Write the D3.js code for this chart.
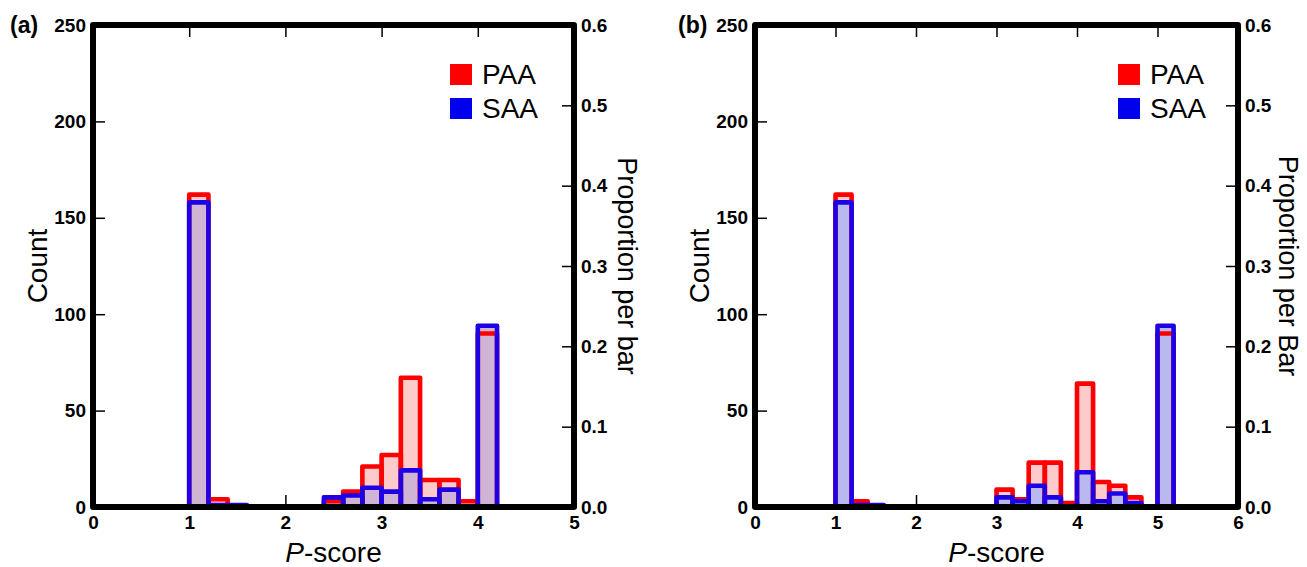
<!DOCTYPE html>
<html>
<head>
<meta charset="utf-8">
<script src="https://cdn.jsdelivr.net/npm/d3@7"></script>
<style>
  html, body { margin: 0; padding: 0; background: #fff; }
  svg { display: block; }
  text { font-family: "Liberation Sans", Arial, sans-serif; }
</style>
</head>
<body>
<svg id="chart" width="1307" height="567"></svg>
<script>
// ---- data ----
const binWidth = 0.2;
const seriesNames = ["PAA", "SAA"];

const binsA = [1.0, 1.2, 1.4, 2.4, 2.6, 2.8, 3.0, 3.2, 3.4, 3.6, 3.8, 4.0];
const paaA  = [162, 4,   0,   3,   8,   21,  27,  67,  14,  14,  3,   90];
const saaA  = [158, 1,   1,   5,   6,   10,  8,   19,  4,   9,   0,   94];

const binsB = [1.0, 1.2, 1.4, 3.0, 3.2, 3.4, 3.6, 3.8, 4.0, 4.2, 4.4, 4.6, 5.0];
const paaB  = [162, 3,   0,   9,   4,   23,  23,  2,   64,  13,  11,  5,   90];
const saaB  = [158, 1,   1,   5,   3,   11,  5,   0,   18,  3,   7,   2,   94];

const xTicksA = [0, 1, 2, 3, 4, 5];
const xTicksB = [0, 1, 2, 3, 4, 5, 6];
const countTicks = [0, 50, 100, 150, 200, 250];
const propTicks = [0, 0.1, 0.2, 0.3, 0.4, 0.5, 0.6];

// ---- layout ----
(function () {
const svg = d3.select("#chart");
const yTop = 25, yBottom = 507;
const RED = "#ff0000", BLUE = "#1e00e6";
const RED_FILL = "#ffcaca";

const panels = [
  { label: "(a)", labelX: 10, left: 93, right: 574, xMax: 5, xTicks: xTicksA,
    bins: binsA, paa: paaA, saa: saaA, blueFill: "#d0b4d6",
    rightTitle: "Proportion per bar", rightOffset: 53, legendX: 450 },
  { label: "(b)", labelX: 678, left: 755, right: 1238, xMax: 6, xTicks: xTicksB,
    bins: binsB, paa: paaB, saa: saaB, blueFill: "#b9b9f0",
    rightTitle: "Proportion per Bar", rightOffset: 50, legendX: 1118 }
];

panels.forEach(p => {
  const g = svg.append("g");
  const x = d3.scaleLinear().domain([0, p.xMax]).range([p.left, p.right]);
  const y = d3.scaleLinear().domain([0, 250]).range([yBottom, yTop]);
  const yR = d3.scaleLinear().domain([0, 0.6]).range([yBottom, yTop]);

  const styleAxis = sel => {
    sel.select(".domain").remove();
    sel.selectAll(".tick line").attr("stroke", "#000").attr("stroke-width", 1.5);
    sel.selectAll(".tick text")
      .attr("fill", "#000")
      .style("font-family", '"Liberation Sans", Arial, sans-serif')
      .style("font-weight", "bold")
      .style("font-size", "19px");
  };

  g.append("g").attr("transform", `translate(0,${yBottom})`)
    .call(d3.axisBottom(x).tickValues(p.xTicks).tickSize(-12).tickPadding(9).tickFormat(d3.format("d")))
    .call(styleAxis);
  g.append("g").attr("transform", `translate(0,${yTop})`)
    .call(d3.axisTop(x).tickValues(p.xTicks).tickSize(-12).tickFormat(""))
    .call(styleAxis);
  g.append("g").attr("transform", `translate(${p.left},0)`)
    .call(d3.axisLeft(y).tickValues(countTicks).tickSize(-12).tickPadding(7))
    .call(styleAxis);
  g.append("g").attr("transform", `translate(${p.right},0)`)
    .call(d3.axisRight(yR).tickValues(propTicks).tickSize(-12).tickPadding(7).tickFormat(d3.format(".1f")))
    .call(styleAxis);

  const rows = p.bins.map((b, i) => ({ b, paa: p.paa[i], saa: p.saa[i] }));
  const rectAttrs = (sel, key) => sel
    .attr("x", d => x(d.b))
    .attr("width", d => x(d.b + binWidth) - x(d.b))
    .attr("y", d => y(d[key]))
    .attr("height", d => y(0) - y(d[key]));

  const bars = g.append("g");
  bars.selectAll(".rf").data(rows.filter(d => d.paa > 0)).join("rect")
    .call(rectAttrs, "paa").attr("fill", RED_FILL);
  bars.selectAll(".bf").data(rows.filter(d => d.saa > 0)).join("rect")
    .call(rectAttrs, "saa").attr("fill", p.blueFill);
  bars.selectAll(".rs").data(rows.filter(d => d.paa > 0)).join("rect")
    .call(rectAttrs, "paa").attr("fill", "none")
    .attr("stroke", RED).attr("stroke-width", 4.6).attr("stroke-linejoin", "round");
  bars.selectAll(".bs").data(rows.filter(d => d.saa > 0)).join("rect")
    .call(rectAttrs, "saa").attr("fill", "none")
    .attr("stroke", BLUE).attr("stroke-width", 4.6).attr("stroke-linejoin", "round");

  // frame
  g.append("rect")
    .attr("x", p.left).attr("y", yTop)
    .attr("width", p.right - p.left).attr("height", yBottom - yTop)
    .attr("fill", "none").attr("stroke", "#000").attr("stroke-width", 6)
    .attr("stroke-linejoin", "round");

  // titles
  g.append("text")
    .attr("transform", `translate(${p.left - 56},${(yTop + yBottom) / 2}) rotate(-90)`)
    .attr("text-anchor", "middle").attr("dy", "0.35em")
    .style("font-size", "28px").text("Count");
  g.append("text")
    .attr("transform", `translate(${p.right + p.rightOffset},${(yTop + yBottom) / 2}) rotate(90)`)
    .attr("text-anchor", "middle").attr("dy", "0.35em")
    .style("font-size", "27px").text(p.rightTitle);
  const xt = g.append("text")
    .attr("x", (p.left + p.right) / 2).attr("y", 562)
    .attr("text-anchor", "middle").style("font-size", "28px");
  xt.append("tspan").style("font-style", "italic").text("P");
  xt.append("tspan").text("-score");

  g.append("text").attr("x", p.labelX).attr("y", 33)
    .style("font-size", "23px").style("font-weight", "bold").text(p.label);

  // legend
  const legColors = [RED, "#0000ee"];
  seriesNames.forEach((name, i) => {
    g.append("rect").attr("x", p.legendX).attr("y", 64 + i * 34)
      .attr("width", 22).attr("height", 21).attr("fill", legColors[i]);
    g.append("text").attr("x", p.legendX + 32).attr("y", 84 + i * 34)
      .style("font-size", "28px").text(name);
  });
});
})();
</script>
</body>
</html>
